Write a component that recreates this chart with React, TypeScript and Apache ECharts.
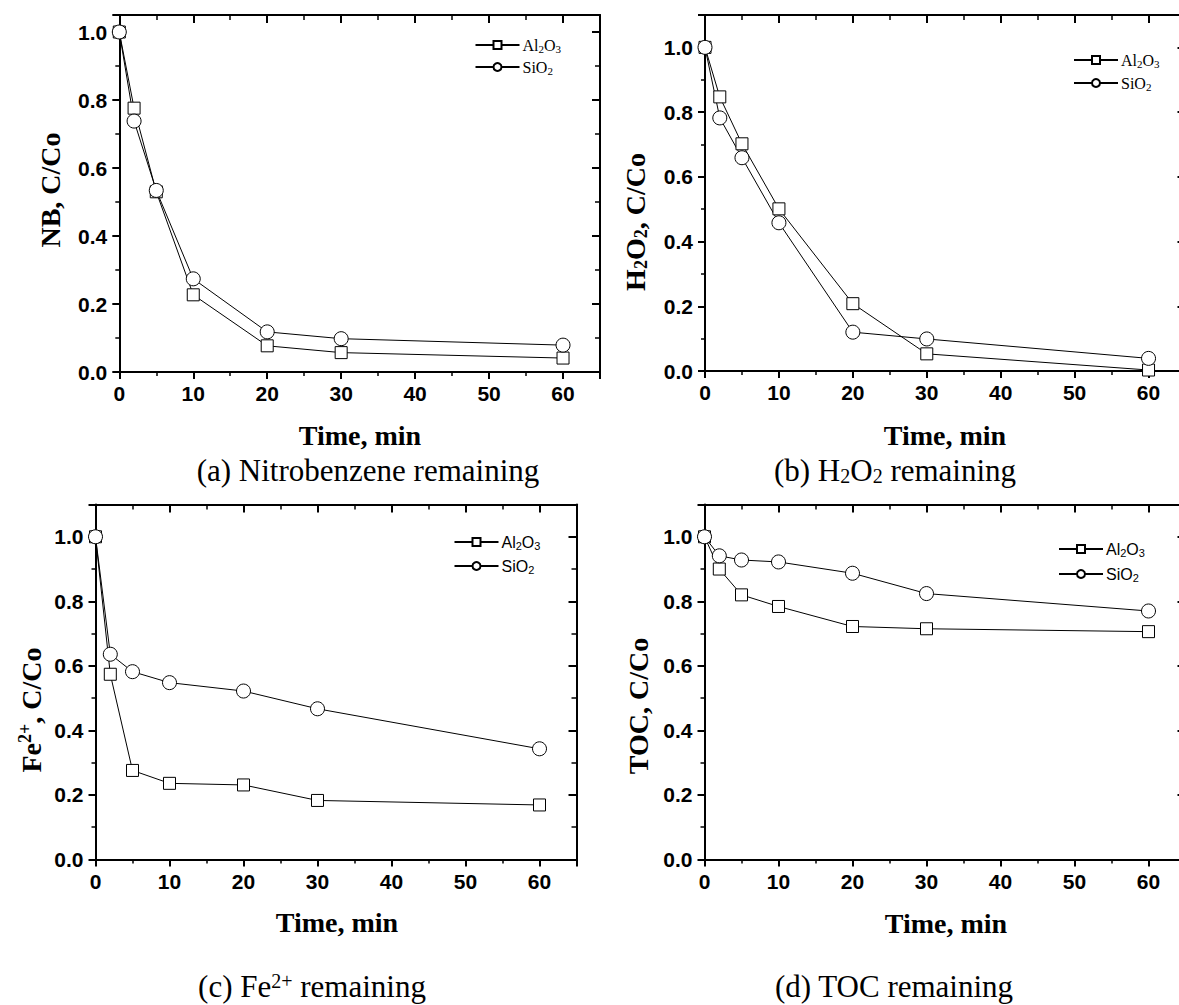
import React, { useEffect, useRef } from "react";
import * as echarts from "echarts";

// ---------- data ----------
const time = [0, 2, 5, 10, 20, 30, 60];
const nbAl2O3 = [1.0, 0.776, 0.53, 0.227, 0.077, 0.057, 0.041];
const nbSiO2 = [1.0, 0.738, 0.534, 0.274, 0.118, 0.098, 0.079];
const h2o2Al2O3 = [1.0, 0.847, 0.702, 0.501, 0.208, 0.053, 0.003];
const h2o2SiO2 = [1.0, 0.782, 0.659, 0.458, 0.12, 0.099, 0.039];
const feAl2O3 = [1.0, 0.574, 0.276, 0.236, 0.231, 0.183, 0.169];
const feSiO2 = [1.0, 0.636, 0.582, 0.548, 0.522, 0.467, 0.343];
const tocAl2O3 = [1.0, 0.9, 0.82, 0.784, 0.722, 0.715, 0.706];
const tocSiO2 = [1.0, 0.941, 0.928, 0.922, 0.887, 0.824, 0.77];
const xTickLabels = [0, 10, 20, 30, 40, 50, 60];
const yTickLabels = [0, 0.2, 0.4, 0.6, 0.8, 1.0];
const seriesNames = ["Al2O3", "SiO2"];

const SERIF = "'Liberation Serif', 'Times New Roman', serif";
const SANS = "'Liberation Sans', Arial, sans-serif";

// ---------- layout ----------
const panels = [
  {
    grid: { left: 119.3, top: 15, width: 480.7, height: 357 },
    yMax: 1.05,
    al: nbAl2O3,
    si: nbSiO2,
    legend: { left: 474.5, top: 36, gap: 4, font: SERIF },
  },
  {
    grid: { left: 705, top: 15, width: 480.5, height: 356 },
    yMax: 1.1,
    al: h2o2Al2O3,
    si: h2o2SiO2,
    legend: { left: 1073, top: 51, gap: 5, font: SERIF },
  },
  {
    grid: { left: 95.5, top: 504.5, width: 481, height: 355 },
    yMax: 1.1,
    al: feAl2O3,
    si: feSiO2,
    legend: { left: 453.5, top: 533, gap: 6, font: SANS },
  },
  {
    grid: { left: 704.5, top: 504.5, width: 481, height: 355 },
    yMax: 1.1,
    al: tocAl2O3,
    si: tocSiO2,
    legend: { left: 1058, top: 540, gap: 7, font: SANS },
  },
];

const titles = [
  { x: 50, y: 190, rot: true, text: "{m|NB, C/Co}" },
  { x: 635, y: 222, rot: true, text: "{m|H}{s|2}{m|O}{s|2}{m|, C/Co}" },
  { x: 31, y: 710, rot: true, text: "{m|Fe}{p|2+}{m|, C/Co}" },
  { x: 638, y: 706, rot: true, text: "{m|TOC, C/Co}" },
  { x: 360, y: 435, rot: false, text: "{m|Time, min}" },
  { x: 945, y: 435, rot: false, text: "{m|Time, min}" },
  { x: 337, y: 922, rot: false, text: "{m|Time, min}" },
  { x: 946, y: 923, rot: false, text: "{m|Time, min}" },
];

const captions = [
  { x: 368, y: 470, text: "{c|(a) Nitrobenzene remaining}" },
  { x: 895, y: 470, text: "{c|(b) H}{cs|2}{c|O}{cs|2}{c| remaining}" },
  { x: 312, y: 986, text: "{c|(c) Fe}{cp|2+}{c| remaining}" },
  { x: 894, y: 986, text: "{c|(d) TOC remaining}" },
];

const black = "#000";

function isTick(v: number, list: number[]) {
  return list.some((t) => Math.abs(t - v) < 1e-6);
}

function buildOption() {
  const grid: any[] = [];
  const xAxis: any[] = [];
  const yAxis: any[] = [];
  const series: any[] = [];
  const legend: any[] = [];
  const graphic: any[] = [];

  panels.forEach((p, g) => {
    grid.push({ ...p.grid, containLabel: false, outerBoundsMode: "none" });

    const xc = { type: "value", gridIndex: g, min: 0, max: 65, splitLine: { show: false } };
    xAxis.push(
      {
        ...xc,
        position: "bottom",
        interval: 10,
        axisLine: { show: true, onZero: false, lineStyle: { color: black, width: 2 } },
        axisTick: { show: true, inside: false, length: 7, lineStyle: { color: black, width: 2 } },
        axisLabel: {
          show: true,
          margin: 11,
          color: black,
          fontSize: 21,
          fontWeight: "bold",
          fontFamily: SANS,
          formatter: (v: number) => (isTick(v, xTickLabels) ? String(v) : ""),
        },
      },
      {
        ...xc,
        position: "bottom",
        interval: 5,
        axisLine: { show: false, onZero: false },
        axisTick: { show: true, inside: false, length: 4, lineStyle: { color: black, width: 1.5 } },
        axisLabel: { show: false },
      },
      {
        ...xc,
        position: "top",
        interval: 10,
        axisLine: { show: true, onZero: false, lineStyle: { color: black, width: 2 } },
        axisTick: { show: true, inside: true, length: 8, lineStyle: { color: black, width: 2 } },
        axisLabel: { show: false },
      },
      {
        ...xc,
        position: "top",
        interval: 5,
        axisLine: { show: false, onZero: false },
        axisTick: { show: true, inside: true, length: 5, lineStyle: { color: black, width: 1.5 } },
        axisLabel: { show: false },
      }
    );

    const yc = { type: "value", gridIndex: g, min: 0, max: p.yMax, splitLine: { show: false } };
    yAxis.push(
      {
        ...yc,
        position: "left",
        interval: 0.2,
        axisLine: { show: true, onZero: false, lineStyle: { color: black, width: 2 } },
        axisTick: { show: true, inside: false, length: 7, lineStyle: { color: black, width: 2 } },
        axisLabel: {
          show: true,
          margin: 12,
          color: black,
          fontSize: 21,
          fontWeight: "bold",
          fontFamily: SANS,
          formatter: (v: number) => (isTick(v, yTickLabels) ? v.toFixed(1) : ""),
        },
      },
      {
        ...yc,
        position: "left",
        interval: 0.1,
        axisLine: { show: false, onZero: false },
        axisTick: { show: true, inside: false, length: 4, lineStyle: { color: black, width: 1.5 } },
        axisLabel: { show: false },
      },
      {
        ...yc,
        position: "right",
        interval: 0.2,
        axisLine: { show: true, onZero: false, lineStyle: { color: black, width: 2 } },
        axisTick: { show: true, inside: true, length: 8, lineStyle: { color: black, width: 2 } },
        axisLabel: { show: false },
      },
      {
        ...yc,
        position: "right",
        interval: 0.1,
        axisLine: { show: false, onZero: false },
        axisTick: { show: true, inside: true, length: 5, lineStyle: { color: black, width: 1.5 } },
        axisLabel: { show: false },
      }
    );

    const mk = (name: string, vals: number[], symbol: string, size: number) => ({
      type: "line",
      name,
      xAxisIndex: 4 * g,
      yAxisIndex: 4 * g,
      data: time.map((t, k) => [t, vals[k]]),
      symbol,
      symbolSize: size,
      showSymbol: true,
      clip: false,
      lineStyle: { color: black, width: 1 },
      itemStyle: { color: "#fff", borderColor: black, borderWidth: 1 },
      emphasis: { disabled: true },
      z: 5,
    });
    series.push(mk(seriesNames[0], p.al, "rect", 12), mk(seriesNames[1], p.si, "circle", 14));

    legend.push({
      orient: "vertical",
      left: p.legend.left,
      top: p.legend.top,
      padding: 0,
      itemWidth: 44,
      itemHeight: 10,
      itemGap: p.legend.gap,
      selectedMode: false,
      data: seriesNames,
      formatter: (n: string) => (n === "Al2O3" ? "Al{s|2}O{s|3}" : "SiO{s|2}"),
      textStyle: {
        color: black,
        fontFamily: p.legend.font,
        fontSize: 16,
        lineHeight: 18,
        padding: [0, 0, 0, -2],
        rich: {
          s: {
            color: black,
            fontFamily: p.legend.font,
            fontSize: 11,
            lineHeight: 11,
            verticalAlign: "bottom",
          },
        },
      },
    });
  });

  const titleRich = {
    m: { fill: black, fontFamily: SERIF, fontWeight: "bold", fontSize: 28, lineHeight: 30 },
    s: { fill: black, fontFamily: SERIF, fontWeight: "bold", fontSize: 18, lineHeight: 18, verticalAlign: "bottom" },
    p: { fill: black, fontFamily: SERIF, fontWeight: "bold", fontSize: 18, lineHeight: 18, verticalAlign: "top" },
  };
  titles.forEach((t) => {
    graphic.push({
      type: "text",
      x: t.x,
      y: t.y,
      rotation: t.rot ? Math.PI / 2 : 0,
      silent: true,
      style: { text: t.text, align: "center", verticalAlign: "middle", fill: black, rich: titleRich },
    });
  });

  const capRich = {
    c: { fill: black, fontFamily: SERIF, fontSize: 31, lineHeight: 31 },
    cs: { fill: black, fontFamily: SERIF, fontSize: 20, lineHeight: 20, verticalAlign: "bottom" },
    cp: { fill: black, fontFamily: SERIF, fontSize: 20, lineHeight: 20, verticalAlign: "top" },
  };
  captions.forEach((c) => {
    graphic.push({
      type: "text",
      x: c.x,
      y: c.y,
      silent: true,
      style: { text: c.text, align: "center", verticalAlign: "middle", fill: black, rich: capRich },
    });
  });

  return {
    animation: false,
    backgroundColor: "#fff",
    grid,
    xAxis,
    yAxis,
    series,
    legend,
    graphic,
  };
}

export default function App() {
  const ref = useRef<HTMLDivElement>(null);
  useEffect(() => {
    if (!ref.current) return;
    const chart = echarts.init(ref.current, undefined, { renderer: "svg" });
    chart.setOption(buildOption() as any);
    return () => chart.dispose();
  }, []);
  return (
    <div
      ref={ref}
      style={{ position: "absolute", left: 0, top: 0, width: 1179, height: 1005, background: "#fff" }}
    />
  );
}
